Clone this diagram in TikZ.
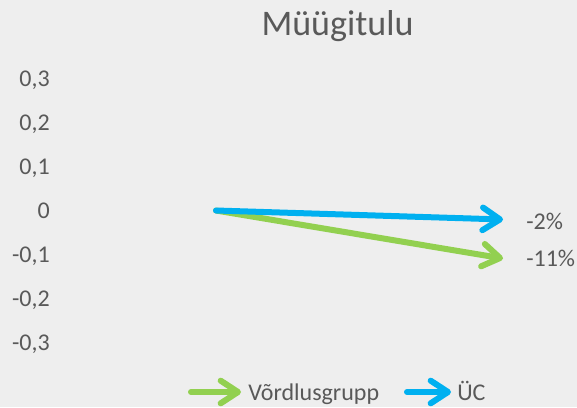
\documentclass[tikz,border=0pt]{standalone}
\usepackage{fontspec}
\setmainfont{Carlito}
\usetikzlibrary{arrows.meta}
\definecolor{bgGray}{HTML}{EEEEEE}
\definecolor{txtGray}{HTML}{595959}
\definecolor{ucBlue}{HTML}{00B0F0}
\definecolor{grpGreen}{HTML}{92D050}
\tikzset{
  chev/.style={-{Straight Barb[length=13pt,width=17pt,round]}, line width=4.5pt, line cap=round},
  lbl/.style={inner sep=0pt, text=txtGray, font=\fontsize{18}{20}\selectfont},
}
\begin{document}
\begin{tikzpicture}[x=0.75pt,y=0.75pt,yscale=-1]
%Background
\fill[bgGray] (0,0) rectangle (577,407);
\useasboundingbox (0,0) rectangle (577,407);

% Text Node
\node (title) [anchor=base, inner sep=0pt, text=txtGray, font=\fontsize{27}{30}\selectfont] at (337.5,35) {Müügitulu};

%Axis labels
\foreach \t [count=\i from 0] in {{0,3},{0,2},{0,1},0,{-0,1},{-0,2},{-0,3}}
  \node (tick\i) [lbl, anchor=base east] at (50,86+44*\i) {\t};

%Arrows
\coordinate (origin) at (216,210.5);
\coordinate (ucEnd) at (503,219.5);
\coordinate (grpEnd) at (503,258.5);
\draw [chev, grpGreen] (origin) -- (grpEnd);
\draw [chev, ucBlue] (origin) -- (ucEnd);

% Text Node
\node (ucVal) [lbl, anchor=base west] at (526,229) {-2\%};
% Text Node
\node (grpVal) [lbl, anchor=base west] at (526,266) {-11\%};

%Legend
\coordinate (grpKeyA) at (191,392);
\coordinate (grpKeyB) at (241,392);
\draw [chev, grpGreen] (grpKeyA) -- (grpKeyB);
\node (grpKey) [lbl, anchor=base west] at (248,400) {Võrdlusgrupp};
\coordinate (ucKeyA) at (407,392);
\coordinate (ucKeyB) at (451,392);
\draw [chev, ucBlue] (ucKeyA) -- (ucKeyB);
\node (ucKey) [lbl, anchor=base west] at (457,400) {ÜC};
\end{tikzpicture}
\end{document}
